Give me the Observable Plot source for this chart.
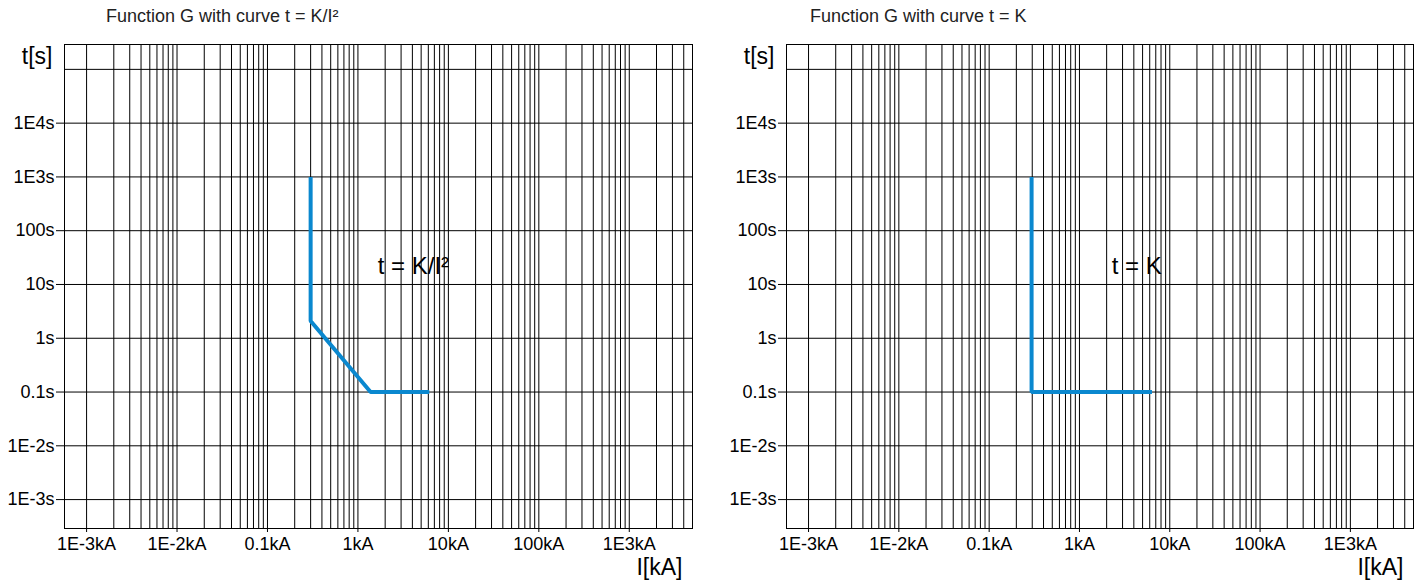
<!DOCTYPE html>
<html>
<head>
<meta charset="utf-8">
<script src="https://cdn.jsdelivr.net/npm/d3@7"></script>
<script src="https://cdn.jsdelivr.net/npm/@observablehq/plot@0.6"></script>
<style>
  html, body { margin: 0; padding: 0; background: white; }
  #wrap { position: relative; width: 1417px; height: 582px; overflow: hidden; font-family: "Liberation Sans", Arial, sans-serif; }
  .chart { position: absolute; top: 0; z-index: 1; }
  .title { position: absolute; top: 7px; font-size: 18px; line-height: 18px; color: #222; white-space: nowrap; z-index: 2; }
</style>
</head>
<body>
<div id="wrap">
  <div class="chart" id="left" style="left:0px"></div>
  <div class="chart" id="right" style="left:708px"></div>
  <div class="title" style="left:106px">Function G with curve t = K/I²</div>
  <div class="title" style="left:810px">Function G with curve t = K</div>
</div>
<script>
// ---- data ----
const xDomain = [5.7e-4, 5000];
const yDomain = [2.9e-4, 2.9e5];
const xTickValues = [1e-3, 1e-2, 0.1, 1, 10, 100, 1000];
const xTickLabels = ["1E-3kA", "1E-2kA", "0.1kA", "1kA", "10kA", "100kA", "1E3kA"];
const yTickValues = [1e-3, 1e-2, 0.1, 1, 10, 100, 1000, 1e4];
const yTickLabels = ["1E-3s", "1E-2s", "0.1s", "1s", "10s", "100s", "1E3s", "1E4s"];
const yGridValues = [1e-3, 1e-2, 0.1, 1, 10, 100, 1000, 1e4, 1e5];
const xDecades = [1e-3, 1e-2, 0.1, 1, 10, 100, 1000];
const xMultiples = [1, 2, 3, 4, 5, 6, 7, 8, 9];

const leftCurveI = [0.3, 0.3, 1.38, 6.15];
const leftCurveT = [1000, 2.1, 0.1, 0.1];
const leftLabel = "t = K/I²";
const leftLabelI = 4.1;
const leftLabelT = 21.4;

const rightCurveI = [0.295, 0.295, 6.35];
const rightCurveT = [1000, 0.1, 0.1];
const rightLabel = "t = K";
const rightLabelI = 4.3;
const rightLabelT = 21.4;

const blue = "#0a88cf";

const xGrid = xDecades.flatMap(d => xMultiples.map(m => +(m * d).toPrecision(6)))
  .filter(v => v >= xDomain[0] && v <= xDomain[1]);

function makeChart({width, marginLeft, marginRight, curveI, curveT, label, labelI, labelT}) {
  const pts = curveI.map((I, i) => ({I, t: curveT[i]}));
  const svg = Plot.plot({
    width,
    height: 582,
    marginLeft,
    marginRight,
    marginTop: 44,
    marginBottom: 54,
    style: {fontFamily: "'Liberation Sans', Arial, sans-serif", fontSize: "18px", color: "black", background: "transparent"},
    x: {type: "log", domain: xDomain, ticks: xTickValues,
        tickFormat: d => xTickLabels[xTickValues.findIndex(v => Math.abs(v - d) / v < 1e-6)],
        tickSize: 4, tickPadding: 5, label: null},
    y: {type: "log", domain: yDomain, ticks: yTickValues,
        tickFormat: d => yTickLabels[yTickValues.findIndex(v => Math.abs(v - d) / v < 1e-6)],
        tickSize: 8, tickPadding: 2, label: null},
    marks: [
      Plot.ruleX(xGrid, {stroke: "black", strokeWidth: 1}),
      Plot.ruleY(yGridValues, {stroke: "black", strokeWidth: 1}),
      Plot.frame({stroke: "black", strokeWidth: 1}),
      Plot.text([label], {x: () => labelI, y: () => labelT, text: d => d, fontSize: 24, ariaLabel: "curvelabel", fill: "black", lineAnchor: "middle"}),
      Plot.line(pts, {x: "I", y: "t", stroke: blue, strokeWidth: 4, strokeLinejoin: "miter", strokeLinecap: "butt"}),
      Plot.text(["t[s]"], {text: d => d, frameAnchor: "top-left", dx: -12, dy: 12, textAnchor: "end", lineAnchor: "middle", fontSize: 23}),
      Plot.text(["I[kA]"], {text: d => d, frameAnchor: "bottom-right", dx: -10, dy: 39, textAnchor: "end", lineAnchor: "middle", fontSize: 23})
    ]
  });
  return svg;
}

function addBoxes(svg) {
  const ns = "http://www.w3.org/2000/svg";
  svg.querySelectorAll('g[aria-label="curvelabel"] text').forEach(t => {
    const b = t.getBBox();
    const r = document.createElementNS(ns, "rect");
    r.setAttribute("x", b.x - 3);
    r.setAttribute("y", b.y - 3);
    r.setAttribute("width", b.width + 6);
    r.setAttribute("height", b.height + 6);
    r.setAttribute("fill", "white");
    const tr = t.getAttribute("transform");
    if (tr) r.setAttribute("transform", tr);
    t.parentNode.insertBefore(r, t);
  });
}

const left = makeChart({width: 708, marginLeft: 64, marginRight: 16,
  curveI: leftCurveI, curveT: leftCurveT, label: leftLabel, labelI: leftLabelI, labelT: leftLabelT});
document.getElementById("left").appendChild(left);
addBoxes(left);

const right = makeChart({width: 709, marginLeft: 78, marginRight: 4,
  curveI: rightCurveI, curveT: rightCurveT, label: rightLabel, labelI: rightLabelI, labelT: rightLabelT});
document.getElementById("right").appendChild(right);
addBoxes(right);
</script>
</body>
</html>
